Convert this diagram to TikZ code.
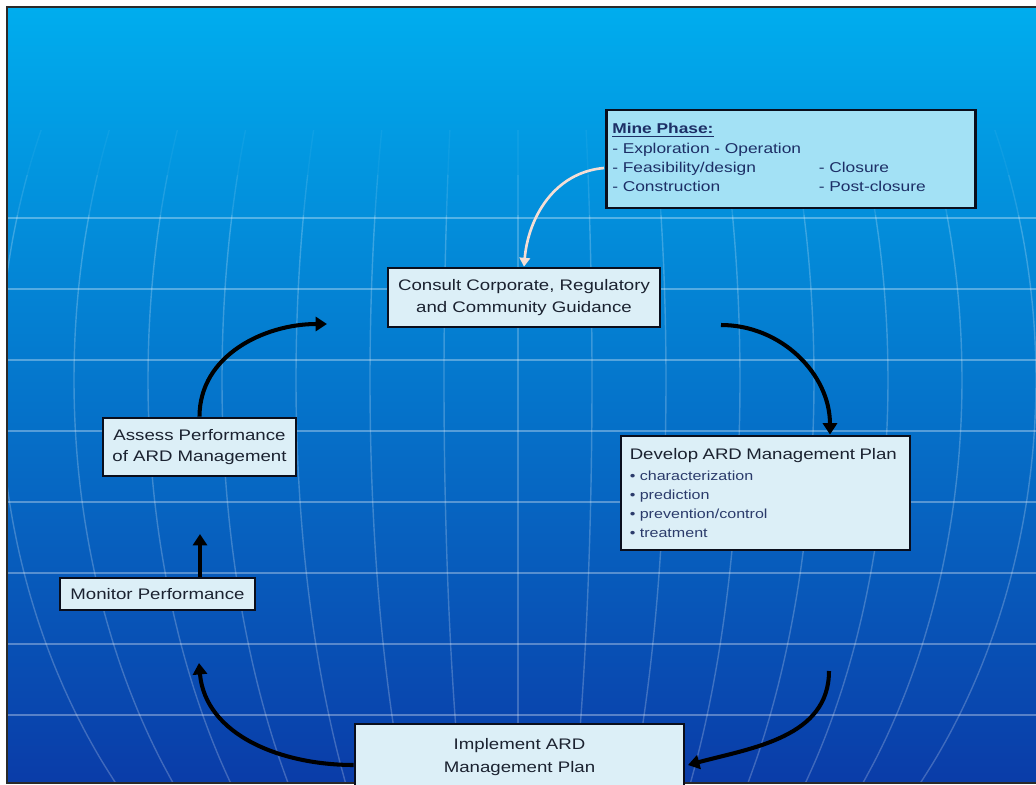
\documentclass[tikz,border=0pt]{standalone}
\usepackage{fontspec}
\setmainfont{Liberation Sans}[FakeStretch=1.22]
\usetikzlibrary{arrows.meta}
\definecolor{skytop}{HTML}{00ADEE}
\definecolor{skymid}{HTML}{0D72DE}
\definecolor{skylow}{HTML}{0A3CA8}
\definecolor{boxfill}{HTML}{DCEFF7}
\definecolor{minefill}{HTML}{A3E1F5}
\definecolor{boxline}{HTML}{0A0E1C}
\definecolor{ink}{HTML}{1B2230}
\definecolor{navy}{HTML}{1D2F66}
\definecolor{bulletink}{HTML}{2B3B6B}
\definecolor{hintarrow}{HTML}{F4DED5}
\definecolor{frame}{HTML}{2A2A2A}
\begin{document}
\begin{tikzpicture}[x=0.02cm, y=-0.02cm,
  box/.style={draw=boxline, line width=1.6pt, fill=boxfill, text=ink, align=center, font=\fontsize{8.7}{12.8}\selectfont},
  flow/.style={line width=2.3pt, draw=black, -{Triangle[length=6.5pt,width=8pt]}},
  hint/.style={line width=1.5pt, draw=hintarrow, -{Triangle[length=5pt,width=6pt]}},
  latitude/.style={draw=white, opacity=.32, line width=1.1pt},
  meridian/.style={draw=white, line width=.8pt}]
        % Background and globe grid
        \useasboundingbox (0,0) rectangle (1036,785);
        \fill[white] (0,0) rectangle (1036,785);
        \shade[top color=skytop, middle color=skymid, bottom color=skylow] (7,7) rectangle (1036,783);
        \begin{scope}
          \clip (7,7) rectangle (1036,783);
          \foreach \a/\b/\o in {130/175/.05, 175/215/.12, 215/783/.22}
            \foreach \i in {-7,...,7} \draw[meridian, opacity=\o] plot[domain=\a:\b, samples=25, smooth] ({518+74*\i*sqrt(1-((\x-380)/640)^2)}, \x);
          \foreach \y in {218,289,...,715} \draw[latitude] (7,\y) -- (1036,\y);
        \end{scope}
        \draw[line width=1.5pt, frame] (1036,7) -- (7,7) -- (7,783) -- (1036,783);
        % Boxes
        \node[box, fill=minefill, text=navy, align=left, text width=7.15cm, minimum height=1.96cm, font=\fontsize{8.1}{11}\selectfont] (phase) at (791,159) {\noindent\begin{tabular}{@{}l@{\hspace{10pt}}l@{}}
            \underline{\textbf{Mine Phase:}} & \\
            - Exploration - Operation & \\
            - Feasibility/design & - Closure \\
            - Construction & - Post-closure
          \end{tabular}};
        \node[box, minimum width=5.44cm, minimum height=1.18cm] (consult) at (524,297.5) {Consult Corporate, Regulatory\\and Community Guidance};
        \node[box, align=left, text width=5.43cm, minimum height=2.28cm, inner xsep=5pt, font=\fontsize{7.5}{10.8}\selectfont] (develop) at (765.5,493) {{\fontsize{8.7}{12}\selectfont Develop ARD Management Plan}\\[1pt]
          {\color{bulletink}• characterization}\\
          {\color{bulletink}• prediction}\\
          {\color{bulletink}• prevention/control}\\
          {\color{bulletink}• treatment}};
        \node[box, minimum width=6.58cm, minimum height=1.32cm] (implement) at (519.5,757) {Implement ARD\\Management Plan};
        \node[box, minimum width=3.9cm, minimum height=0.64cm] (monitor) at (157.5,594) {Monitor Performance};
        \node[box, minimum width=3.86cm, minimum height=1.16cm, font=\fontsize{8.7}{11.8}\selectfont] (assess) at (199.5,447) {Assess Performance\\of ARD Management};
        % Free arrow ends
        \coordinate (aTip) at (327,324);
        \coordinate (cStart) at (721,325);
        \coordinate (dStart) at (829,671);
        \coordinate (iTip) at (688,765);
        \coordinate (mTip) at (199,663);
        \coordinate (aBase) at (200,534);
        \coordinate (pStart) at (604,168);
        % Cycle
        \draw[flow] (assess.north) to[out=90, in=180] (aTip);
        \draw[flow] (cStart) to[out=0, in=90] ([xshift=1.29cm]develop.north);
        \draw[flow] (dStart) to[out=-90, in=15] (iTip);
        \draw[flow] (implement.west |- iTip) to[out=180, in=-85] (mTip);
        \draw[flow] (monitor.north -| aBase) -- (aBase);
        \draw[hint] (pStart) to[out=185, in=85] (consult.north);
\end{tikzpicture}
\end{document}
